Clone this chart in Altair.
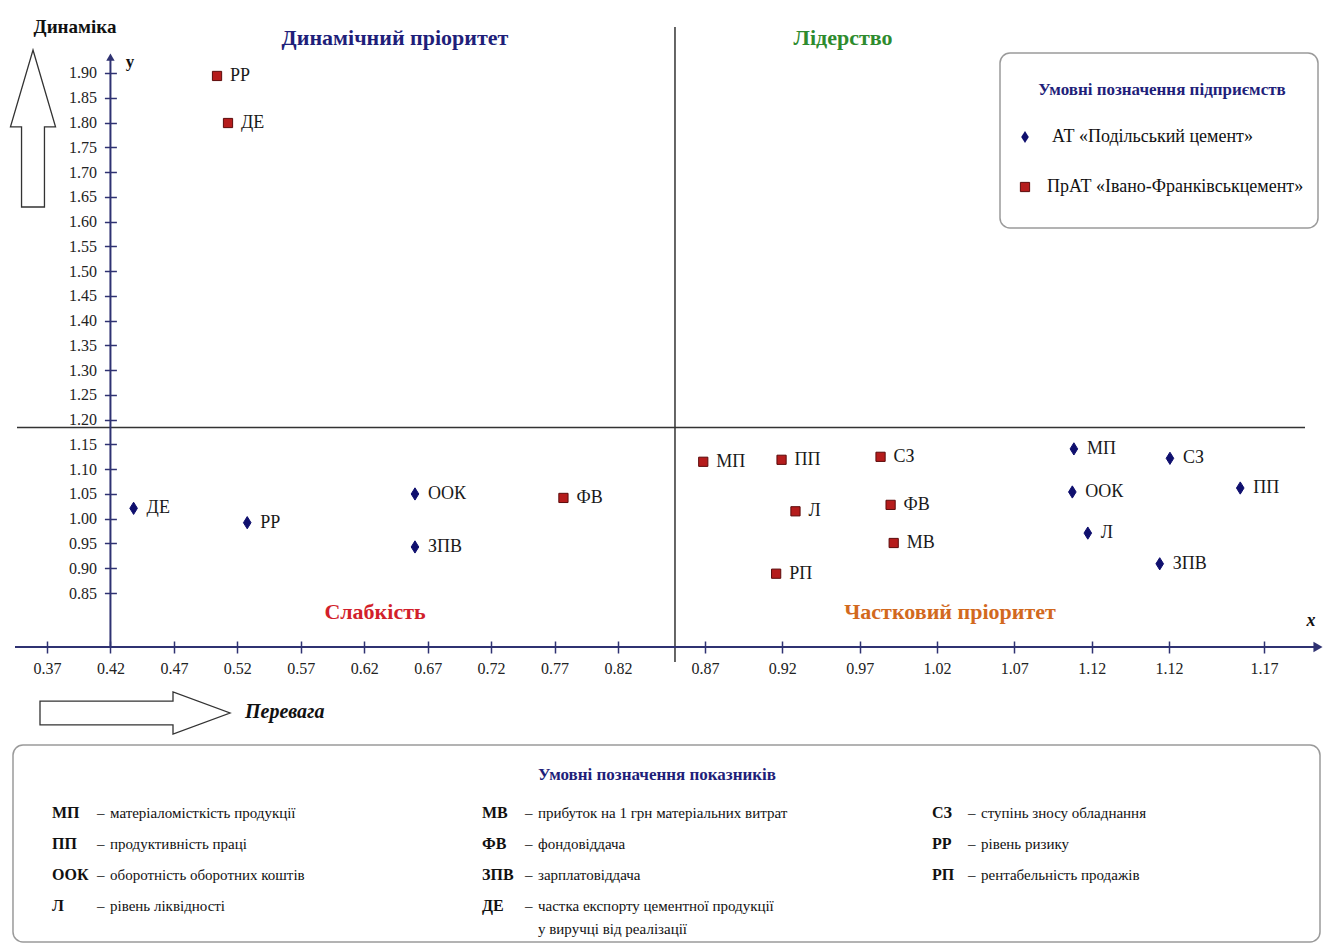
import json
import altair as alt
import pandas as pd

# ---------------- data ----------------
X_TICK_LABELS = ["0.37", "0.42", "0.47", "0.52", "0.57", "0.62", "0.67", "0.72", "0.77", "0.82",
                 "0.87", "0.92", "0.97", "1.02", "1.07", "1.12", "1.12", "1.17"]
Y_TICK_VALUES = [0.85, 0.90, 0.95, 1.00, 1.05, 1.10, 1.15, 1.20, 1.25, 1.30, 1.35, 1.40,
                 1.45, 1.50, 1.55, 1.60, 1.65, 1.70, 1.75, 1.80, 1.85, 1.90]

COMPANIES = ["АТ «Подільський цемент»", "ПрАТ «Івано-Франківськцемент»"]

# x = position along the (irregular) x axis, in tick steps: 0 -> "0.37", 17 -> "1.17"
PODILSKYI_CODES = ["ДЕ", "РР", "ООК", "ЗПВ", "МП", "ООК", "Л", "ЗПВ", "СЗ", "ПП"]
PODILSKYI_X = [1.365, 3.156, 5.80, 5.80, 14.77, 14.75, 14.95, 15.88, 16.01, 16.75]
PODILSKYI_Y = [1.021, 0.992, 1.050, 0.943, 1.141, 1.054, 0.971, 0.909, 1.122, 1.062]

IVFR_CODES = ["РР", "ДЕ", "ФВ", "МП", "ПП", "Л", "РП", "СЗ", "ФВ", "МВ"]
IVFR_X = [2.68, 2.853, 8.14, 9.98, 10.99, 11.17, 10.92, 12.27, 12.40, 12.44]
IVFR_Y = [1.894, 1.799, 1.042, 1.115, 1.119, 1.015, 0.889, 1.125, 1.028, 0.951]

QUADRANT_TITLES = ["Динамічний пріоритет", "Лідерство", "Слабкість", "Частковий пріоритет"]
H_SPLIT = 1.184     # y value of the horizontal quadrant line
V_SPLIT = 9.655     # x position of the vertical quadrant line

IND_ABBR = [["МП", "ПП", "ООК", "Л"],
            ["МВ", "ФВ", "ЗПВ", "ДЕ"],
            ["СЗ", "РР", "РП"]]
IND_DESC = [["матеріаломісткість продукції", "продуктивність праці",
             "оборотність оборотних коштів", "рівень ліквідності"],
            ["прибуток на 1 грн матеріальних витрат", "фондовіддача", "зарплатовіддача",
             "частка експорту цементної продукції\nу виручці від реалізації"],
            ["ступінь зносу обладнання", "рівень ризику", "рентабельність продажів"]]

# ---------------- styling ----------------
FONT = "Liberation Serif"
NAVY = "#0F0F6E"
RED = "#B51C1C"
DARKRED = "#5C0B0B"
AXIS = "#2F3272"
TITLE_NAVY = "#1F1F7A"
DIAMOND = "M0,-1L0.62,0L0,1L-0.62,0Z"
UP_ARROW = "M0,-1L0.287,-0.02L0.146,-0.02L0.146,1L-0.146,1L-0.146,-0.02L-0.287,-0.02Z"
RIGHT_ARROW = "M-1,-0.126L0.4,-0.126L0.4,-0.221L1,0L0.4,0.221L0.4,0.126L-1,0.126Z"

W, H = 1300, 627
Y_MIN, Y_MAX = 0.741, 2.007

rows = []
for c, x, y in zip(PODILSKYI_CODES, PODILSKYI_X, PODILSKYI_Y):
    rows.append({"company": COMPANIES[0], "code": c, "x": x, "y": y})
for c, x, y in zip(IVFR_CODES, IVFR_X, IVFR_Y):
    rows.append({"company": COMPANIES[1], "code": c, "x": x, "y": y})
df = pd.DataFrame(rows)

XS = alt.Scale(domain=[0, 9, 10, 16, 17], range=[32, 603, 690, 1154, 1249], zero=False, nice=False)
YS = alt.Scale(domain=[Y_MIN, Y_MAX], zero=False, nice=False)

x_axis = alt.Axis(values=list(range(len(X_TICK_LABELS))), tickCount=40,
                  labelExpr=f"{json.dumps(X_TICK_LABELS)}[datum.value]",
                  orient="bottom", offset=-6, tickSize=12, tickColor=AXIS, tickWidth=1.5,
                  domain=False, grid=False, labelPadding=7, labelFontSize=16,
                  labelColor="#222", labelOverlap=False, labelFlush=False, title=None)
y_axis = alt.Axis(values=Y_TICK_VALUES, tickCount=40, format=".2f", orient="left",
                  offset=-101.4, tickSize=12, tickColor=AXIS, tickWidth=1.5, domain=False,
                  grid=False, labelPadding=8, labelFontSize=16, labelColor="#222",
                  labelOverlap=False, labelFlush=False, title=None)

ONE = pd.DataFrame({"k": [0]})


def txt(text, x, y, size, color="#111", bold=False, italic=False, align="center"):
    return alt.Chart(ONE).mark_text(
        text=text, fontSize=size, fontWeight="bold" if bold else "normal",
        fontStyle="italic" if italic else "normal", color=color, align=align,
        baseline="middle").encode(x=alt.value(x), y=alt.value(y))


def box(x, x2, y, y2):
    return alt.Chart(ONE).mark_rect(cornerRadius=10, fill="white", stroke="#9a9a9a",
                                    strokeWidth=1.5).encode(
        x=alt.value(x), x2=alt.value(x2), y=alt.value(y), y2=alt.value(y2))


layers = []
# legend boxes
layers.append(box(985, 1303, 33, 208))
layers.append(box(-2, 1305, 725, 922))

# quadrant lines
layers.append(alt.Chart(ONE).mark_rule(color="#333", strokeWidth=1.5).encode(
    x=alt.value(2), x2=alt.value(1290), y=alt.datum(H_SPLIT)))
layers.append(alt.Chart(ONE).mark_rule(color="#333", strokeWidth=1.5).encode(
    x=alt.datum(V_SPLIT), y=alt.value(7), y2=alt.value(642)))

# axis lines + arrow heads
layers.append(alt.Chart(ONE).mark_rule(color=AXIS, strokeWidth=2).encode(
    x=alt.datum(1), y=alt.datum(Y_MIN), y2=alt.datum(1.93)))
layers.append(alt.Chart(ONE).mark_point(shape="triangle-up", filled=True, color=AXIS,
                                        size=70, opacity=1).encode(
    x=alt.datum(1), y=alt.datum(1.932)))
layers.append(alt.Chart(ONE).mark_rule(color=AXIS, strokeWidth=2).encode(
    x=alt.value(0), x2=alt.value(1302), y=alt.value(H)))
layers.append(alt.Chart(ONE).mark_point(shape="triangle-right", filled=True, color=AXIS,
                                        size=110, opacity=1).encode(
    x=alt.value(1303), y=alt.value(H)))

# data points
layers.append(alt.Chart(df).mark_point(filled=True, strokeWidth=1, opacity=1).encode(
    x=alt.X("x:Q", scale=XS, axis=x_axis),
    y=alt.Y("y:Q", scale=YS, axis=y_axis),
    shape=alt.Shape("company:N", scale=alt.Scale(domain=COMPANIES, range=[DIAMOND, "square"]),
                    legend=None),
    fill=alt.Fill("company:N", scale=alt.Scale(domain=COMPANIES, range=[NAVY, RED]), legend=None),
    stroke=alt.Stroke("company:N", scale=alt.Scale(domain=COMPANIES, range=[NAVY, DARKRED]),
                      legend=None),
    size=alt.Size("company:N", scale=alt.Scale(domain=COMPANIES, range=[150, 85]), legend=None),
))
layers.append(alt.Chart(df).mark_text(align="left", baseline="middle", dx=13, fontSize=18,
                                      color="#1a1a1a").encode(
    x=alt.X("x:Q", scale=XS), y=alt.Y("y:Q", scale=YS), text="code:N"))

# quadrant titles
layers.append(txt(QUADRANT_TITLES[0], 380, 18, 22, TITLE_NAVY, bold=True))
layers.append(txt(QUADRANT_TITLES[1], 828, 18, 22, "#2E8B2E", bold=True))
layers.append(txt(QUADRANT_TITLES[2], 360, 592, 22, "#D21F2B", bold=True))
layers.append(txt(QUADRANT_TITLES[3], 935, 592, 22, "#D2691E", bold=True))

# axis titles / arrows
layers.append(txt("Динаміка", 60, 7, 19, "#111", bold=True))
layers.append(alt.Chart(ONE).mark_point(shape=UP_ARROW, size=157 * 157, filled=False,
                                        stroke="#333", strokeWidth=1.3, opacity=1).encode(
    x=alt.value(18), y=alt.value(108.5)))
layers.append(alt.Chart(ONE).mark_point(shape=RIGHT_ARROW, size=190 * 190, filled=False,
                                        stroke="#333", strokeWidth=1.3, opacity=1).encode(
    x=alt.value(120), y=alt.value(693)))
layers.append(txt("Перевага", 230, 692, 20, "#111", bold=True, italic=True, align="left"))
layers.append(txt("x", 1296, 601, 18, "#111", bold=True, italic=True))
layers.append(txt("y", 115, 42, 17, "#111", bold=True))

# company legend
layers.append(txt("Умовні позначення підприємств", 1147, 70, 17, TITLE_NAVY, bold=True))
layers.append(alt.Chart(ONE).mark_point(shape=DIAMOND, size=150, filled=True, color=NAVY,
                                        opacity=1).encode(x=alt.value(1010), y=alt.value(117)))
layers.append(txt(COMPANIES[0], 1037, 117, 18, "#111", align="left"))
layers.append(alt.Chart(ONE).mark_point(shape="square", size=85, filled=True, fill=RED,
                                        stroke=DARKRED, strokeWidth=1, opacity=1).encode(
    x=alt.value(1010), y=alt.value(167)))
layers.append(txt(COMPANIES[1], 1032, 167, 18, "#111", align="left"))

# indicator legend
layers.append(txt("Умовні позначення показників", 642, 755, 17, TITLE_NAVY, bold=True))
COL_ABBR_X = [37, 467, 917]
COL_DASH_X = [82, 510, 953]
ROW_Y = [793, 824, 855, 886]
for ci, (abbrs, descs) in enumerate(zip(IND_ABBR, IND_DESC)):
    for ri, (a, d) in enumerate(zip(abbrs, descs)):
        yy = ROW_Y[ri]
        layers.append(txt(a, COL_ABBR_X[ci], yy, 16, "#111", bold=True, align="left"))
        layers.append(txt("–", COL_DASH_X[ci], yy, 15, "#111", align="left"))
        for li, part in enumerate(d.split("\n")):
            layers.append(txt(part, COL_DASH_X[ci] + 13, yy + 23 * li, 15, "#111", align="left"))

chart = alt.layer(*layers).properties(
    width=W, height=H,
    padding={"left": 7, "top": 12, "right": 8, "bottom": 296},
    autosize=alt.AutoSizeParams(type="none"),
    background="white",
).configure(font=FONT, view=alt.ViewConfig(stroke=None))

chart.save("out.html", embed_options={"renderer": "svg", "actions": False})
